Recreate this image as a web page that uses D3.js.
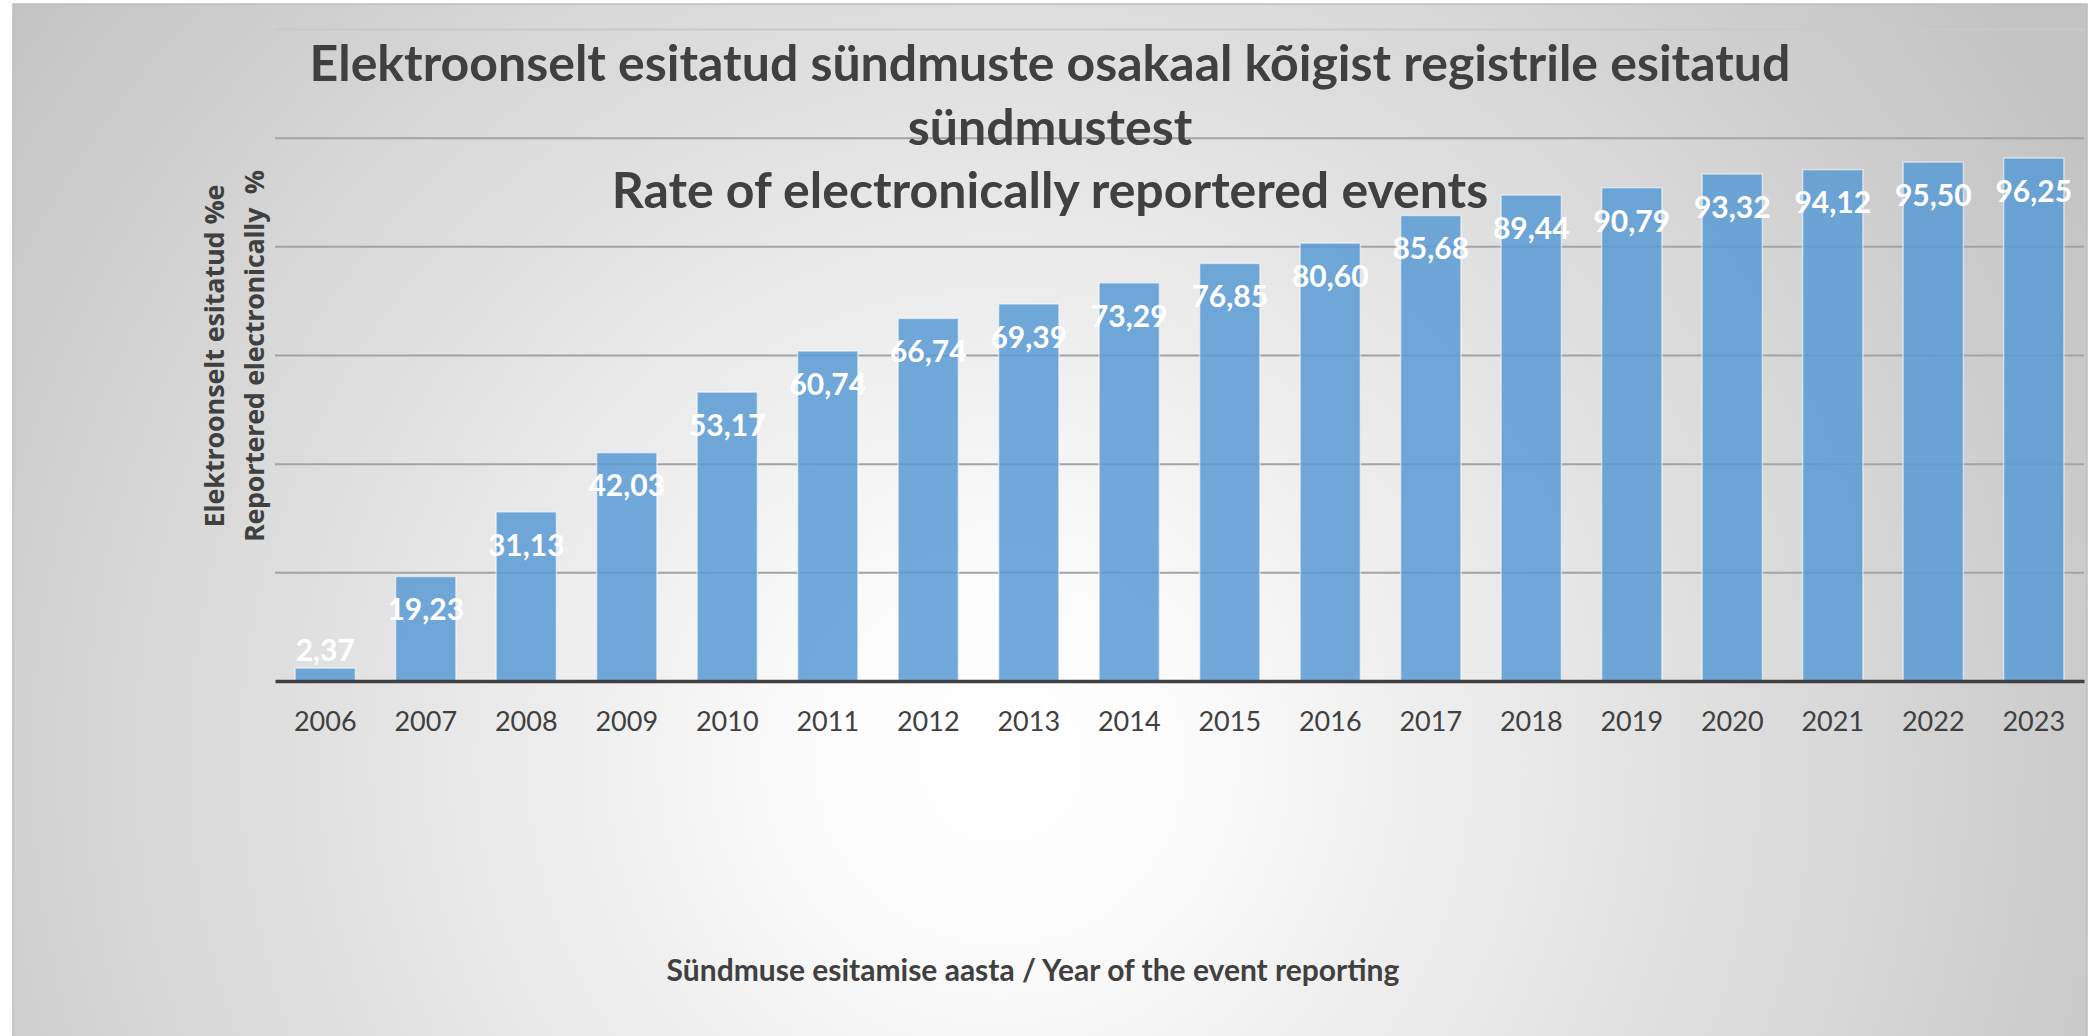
<!DOCTYPE html>
<html>
<head>
<meta charset="utf-8">
<script src="https://cdn.jsdelivr.net/npm/d3@7"></script>
<style>
  html, body { margin: 0; padding: 0; background: #ffffff; }
  svg { display: block; }
</style>
</head>
<body>
<div id="chart"></div>
<script>
// chart data
var years = ["2006", "2007", "2008", "2009", "2010", "2011", "2012", "2013", "2014",
             "2015", "2016", "2017", "2018", "2019", "2020", "2021", "2022", "2023"];
var rates = [2.37, 19.23, 31.13, 42.03, 53.17, 60.74, 66.74, 69.39, 73.29,
             76.85, 80.60, 85.68, 89.44, 90.79, 93.32, 94.12, 95.50, 96.25];
var gridValues = [20, 40, 60, 80, 100, 120];

var titleLines = [
  "Elektroonselt esitatud sündmuste osakaal kõigist registrile esitatud",
  "sündmustest",
  "Rate of electronically reportered events"
];
var yTitleLines = ["Elektroonselt esitatud %e", "Reportered electronically  %"];
var xTitle = "Sündmuse esitamise aasta / Year of the event reporting";

var W = 2098, H = 1036;
var margin = { top: 29, right: 14, bottom: 355, left: 275 };
var width = W - margin.left - margin.right;
var height = H - margin.top - margin.bottom;

var textColor = "#404040";
var titleFont = "Lato, 'Open Sans', sans-serif";

// numbers are shown with a decimal comma
var etLocale = d3.formatLocale({ decimal: ",", thousands: " ", grouping: [3], currency: ["", " €"] });
var fmt = etLocale.format(".2f");

var svg = d3.select("#chart").append("svg")
  .attr("width", W)
  .attr("height", H);

// radial background like the office chart
var defs = svg.append("defs");
var grad = defs.append("radialGradient")
  .attr("id", "bg")
  .attr("gradientUnits", "userSpaceOnUse")
  .attr("cx", 1000).attr("cy", 760)
  .attr("r", 1250);
grad.append("stop").attr("offset", "0").attr("stop-color", "#ffffff");
grad.append("stop").attr("offset", "0.12").attr("stop-color", "#fdfdfd");
grad.append("stop").attr("offset", "1").attr("stop-color", "#c3c3c3");

svg.append("rect")
  .attr("x", 13).attr("y", 4)
  .attr("width", 2074).attr("height", H)
  .attr("fill", "url(#bg)")
  .attr("stroke", "#bdbdbd")
  .attr("stroke-width", 1.5);

var g = svg.append("g")
  .attr("transform", "translate(" + margin.left + "," + margin.top + ")");

var x = d3.scaleBand()
  .domain(years)
  .range([0, width])
  .paddingInner(0.4)
  .paddingOuter(0.2);

var y = d3.scaleLinear()
  .domain([0, 120])
  .range([height, 0]);

// gridlines
g.append("g")
  .attr("class", "grid")
  .call(d3.axisLeft(y).tickValues(gridValues).tickSize(-width).tickFormat(""))
  .call(function (s) {
    s.select(".domain").remove();
    s.selectAll(".tick line")
      .attr("stroke", function (d) { return d === 120 ? "#c9c9c9" : "#a3a3a3"; })
      .attr("stroke-width", 2);
  });

// bars
g.selectAll("rect.bar")
  .data(rates)
  .enter().append("rect")
  .attr("class", "bar")
  .attr("x", function (d, i) { return x(years[i]); })
  .attr("y", function (d) { return y(d); })
  .attr("width", x.bandwidth())
  .attr("height", function (d) { return height - y(d); })
  .attr("fill", "#5b9bd5")
  .attr("fill-opacity", 0.86)
  .attr("stroke", "#ffffff")
  .attr("stroke-opacity", 0.55)
  .attr("stroke-width", 1.5);

// data labels, inside the bar end (above it when the bar is too short)
g.selectAll("text.val")
  .data(rates)
  .enter().append("text")
  .attr("class", "val")
  .attr("x", function (d, i) { return x(years[i]) + x.bandwidth() / 2; })
  .attr("y", function (d) {
    var top = y(d);
    return (height - top) < 60 ? top - 18 : top + 33;
  })
  .attr("dy", "0.36em")
  .attr("text-anchor", "middle")
  .attr("fill", "#ffffff")
  .style("font-family", titleFont)
  .style("font-weight", 700)
  .style("font-size", "30px")
  .text(function (d) { return fmt(d); });

// x axis
g.append("g")
  .attr("transform", "translate(0," + height + ")")
  .call(d3.axisBottom(x).tickSize(0).tickPadding(31))
  .call(function (s) {
    s.select(".domain")
      .attr("stroke", "#404040")
      .attr("stroke-width", 3.5);
    s.selectAll("text")
      .attr("fill", textColor)
      .style("font-family", titleFont)
      .style("font-size", "27px");
  });

// chart title
svg.append("g").selectAll("text")
  .data(titleLines)
  .enter().append("text")
  .attr("x", 1050)
  .attr("y", function (d, i) { return 63 + i * 63.5; })
  .attr("dy", "0.36em")
  .attr("text-anchor", "middle")
  .attr("fill", textColor)
  .style("font-family", titleFont)
  .style("font-weight", 700)
  .style("font-size", "50px")
  .text(function (d) { return d; });

// y axis title, two rotated lines
var yTitleLen = [343, 372];
svg.append("g").selectAll("text")
  .data(yTitleLines)
  .enter().append("text")
  .attr("transform", function (d, i) { return "translate(" + (214 + i * 40) + ",356) rotate(-90)"; })
  .attr("dy", "0.36em")
  .attr("text-anchor", "middle")
  .attr("textLength", function (d, i) { return yTitleLen[i]; })
  .attr("lengthAdjust", "spacing")
  .attr("fill", textColor)
  .style("font-family", "'Open Sans', sans-serif")
  .style("font-weight", 700)
  .style("font-size", "27px")
  .style("white-space", "pre")
  .text(function (d) { return d; });

// x axis title
svg.append("text")
  .attr("x", 1033)
  .attr("y", 970)
  .attr("dy", "0.36em")
  .attr("text-anchor", "middle")
  .attr("fill", textColor)
  .style("font-family", titleFont)
  .style("font-weight", 700)
  .style("font-size", "30px")
  .text(xTitle);
</script>
</body>
</html>
